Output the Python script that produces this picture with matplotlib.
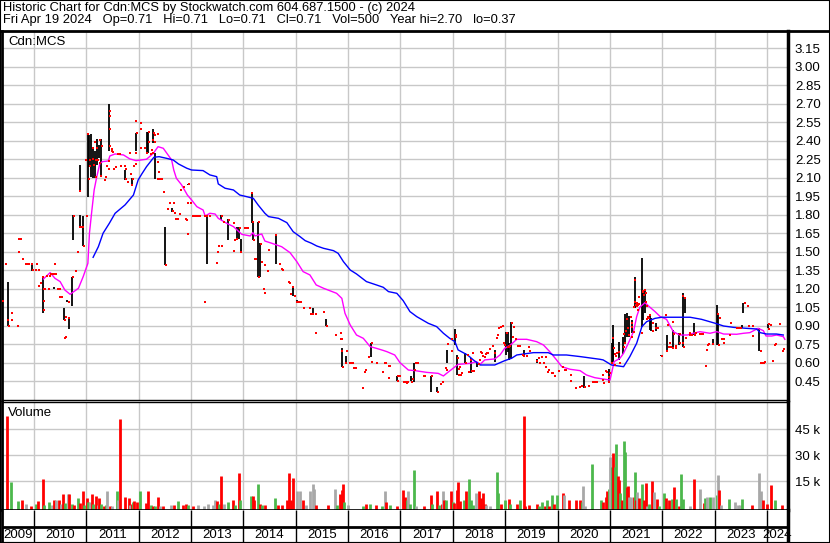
import matplotlib
matplotlib.use("Agg")
import matplotlib.pyplot as plt
from matplotlib.lines import Line2D
from matplotlib.patches import Rectangle

plt.rcParams['font.family'] = ['Liberation Sans', 'DejaVu Sans']

W, H = 830, 543

header1 = "Historic Chart for Cdn:MCS by Stockwatch.com 604.687.1500 - (c) 2024"
header2 = "Fri Apr 19 2024   Op=0.71   Hi=0.71   Lo=0.71   Cl=0.71   Vol=500   Year hi=2.70   lo=0.37"
symbol = "Cdn:MCS"

years = list(range(2009, 2025))
price_ticks = [0.45, 0.60, 0.75, 0.90, 1.05, 1.20, 1.35, 1.50, 1.65, 1.80,
               1.95, 2.10, 2.25, 2.40, 2.55, 2.70, 2.85, 3.00, 3.15]
vol_ticks = [15, 30, 45]   # thousands

# daily closes (decimal year, price)
closes = [
    (2009.40, 1.10), (2009.51, 0.95), (2009.52, 0.90), (2009.58, 0.95), (2009.59, 1.00),
    (2009.69, 0.90), (2009.46, 1.40), (2009.72, 1.60), (2009.75, 1.60), (2009.71, 1.50),
    (2009.80, 1.44), (2009.85, 1.40), (2009.88, 1.40), (2009.91, 1.40), (2009.96, 1.40),
    (2009.99, 1.35), (2010.03, 1.35), (2010.05, 1.40), (2010.09, 1.35), (2010.10, 1.225),
    (2010.13, 1.25), (2010.17, 1.295), (2010.19, 1.10), (2010.19, 1.03), (2010.20, 1.20),
    (2010.22, 1.20), (2010.24, 1.30), (2010.28, 1.20), (2010.31, 1.30), (2010.32, 1.32),
    (2010.36, 1.32), (2010.39, 1.32), (2010.40, 1.40), (2010.43, 1.32), (2010.46, 1.20),
    (2010.50, 1.20), (2010.50, 1.136), (2010.53, 1.136), (2010.59, 0.947), (2010.62, 0.968),
    (2010.67, 0.966), (2010.59, 0.798), (2010.61, 0.806), (2010.66, 1.096), (2010.74, 1.298),
    (2010.80, 1.347), (2010.85, 1.501), (2010.76, 1.793), (2010.88, 1.993), (2010.88, 1.698),
    (2010.91, 1.698), (2010.94, 1.698), (2010.95, 1.547), (2011.01, 1.793),
    (2010.99, 2.244), (2011.04, 2.452), (2011.07, 2.244), (2011.08, 2.196), (2011.06, 2.09),
    (2011.12, 2.344), (2011.13, 2.255), (2011.17, 2.393), (2011.18, 2.247), (2011.21, 2.339),
    (2011.23, 2.244), (2011.15, 2.201), (2011.18, 2.109), (2011.26, 2.217), (2011.27, 2.406),
    (2011.30, 2.361), (2011.29, 2.117), (2011.36, 2.085), (2011.37, 2.109),
    (2011.45, 2.644), (2011.45, 2.604), (2011.46, 2.493), (2011.45, 2.358), (2011.40, 2.196),
    (2011.43, 2.174), (2011.43, 2.239), (2011.50, 2.333), (2011.49, 2.317), (2011.51, 2.306),
    (2011.53, 2.174), (2011.56, 2.190), (2011.61, 2.293), (2011.64, 2.293), (2011.67, 2.198),
    (2011.74, 2.198), (2011.76, 2.090), (2011.80, 2.069), (2011.76, 2.171), (2011.83, 2.304),
    (2011.85, 2.131), (2011.88, 2.042), (2011.91, 2.198), (2011.94, 2.212), (2011.90, 2.088),
    (2011.95, 2.561), (2011.96, 2.461), (2011.94, 2.298), (2012.04, 2.542), (2012.04, 2.493),
    (2012.04, 2.339), (2012.19, 2.469), (2012.19, 2.390), (2012.13, 2.342), (2012.15, 2.304),
    (2012.29, 2.466), (2012.32, 2.447), (2012.32, 2.393), (2012.36, 2.452), (2012.27, 2.406),
    (2012.25, 2.325), (2012.23, 2.293), (2012.28, 2.304), (2012.37, 2.225), (2012.38, 2.150),
    (2012.37, 2.090), (2012.41, 2.090), (2012.45, 2.090), (2012.48, 1.988), (2012.52, 1.393),
    (2012.56, 1.850), (2012.60, 1.898), (2012.67, 1.898), (2012.65, 1.831), (2012.69, 1.817),
    (2012.71, 1.769), (2012.76, 1.769), (2012.79, 1.806), (2012.81, 2.004), (2012.86, 2.025),
    (2012.96, 2.047), (2012.90, 1.769), (2012.92, 1.758), (2012.94, 1.644), (2012.94, 1.898),
    (2013.00, 1.898), (2013.07, 1.793), (2013.11, 1.793), (2013.15, 1.793),
    (2013.04, 1.79), (2013.12, 1.79), (2013.17, 1.79), (2013.27, 1.79), (2013.31, 1.79),
    (2013.36, 1.79), (2013.26, 1.096), (2013.49, 1.41), (2013.59, 1.79), (2013.62, 1.744),
    (2013.72, 1.758), (2013.82, 1.736), (2013.84, 1.596), (2013.87, 1.601), (2013.93, 1.695),
    (2014.03, 1.695), (2014.06, 1.695), (2014.09, 1.695), (2013.53, 1.55), (2013.59, 1.55),
    (2013.51, 1.498), (2013.82, 1.509), (2013.95, 1.501), (2014.16, 1.979), (2014.18, 1.744),
    (2014.21, 1.596), (2014.30, 1.744), (2014.34, 1.563), (2014.29, 1.298), (2014.22, 1.444),
    (2014.25, 1.444), (2014.35, 1.420), (2014.41, 1.396), (2014.47, 1.347), (2014.49, 1.514),
    (2014.62, 1.636), (2014.39, 1.198), (2014.41, 1.169), (2014.69, 1.398), (2014.73, 1.363),
    (2014.75, 1.352), (2014.87, 1.255), (2014.89, 1.250), (2014.91, 1.160), (2014.94, 1.217),
    (2014.98, 1.141), (2015.03, 1.096), (2015.07, 1.096), (2015.10, 1.096), (2015.16, 1.047),
    (2015.28, 1.047), (2015.30, 0.995), (2015.33, 0.995), (2015.38, 0.995), (2015.54, 1.014),
    (2015.39, 0.844), (2015.59, 0.898), (2015.77, 0.828), (2015.86, 0.844), (2015.86, 0.795),
    (2015.88, 0.795), (2015.89, 0.695), (2015.97, 0.695), (2015.90, 0.568), (2015.95, 0.601),
    (2016.04, 0.601), (2016.06, 0.601), (2016.09, 0.601), (2016.11, 0.560), (2016.15, 0.560),
    (2016.29, 0.398), (2016.32, 0.528), (2016.34, 0.541), (2016.40, 0.649), (2016.46, 0.763),
    (2016.46, 0.606), (2016.56, 0.601), (2016.70, 0.601), (2016.72, 0.601), (2016.78, 0.574),
    (2016.66, 0.525), (2016.78, 0.479),
    (2016.71, 0.601), (2016.80, 0.577), (2016.96, 0.496), (2016.99, 0.496), (2016.95, 0.452),
    (2017.07, 0.447), (2017.10, 0.447), (2017.15, 0.447), (2017.12, 0.439), (2017.22, 0.447),
    (2017.24, 0.466), (2017.28, 0.541), (2017.30, 0.601), (2017.34, 0.601), (2017.44, 0.496),
    (2017.47, 0.496), (2017.61, 0.496), (2017.71, 0.366), (2017.77, 0.428), (2017.82, 0.441),
    (2017.86, 0.560), (2017.88, 0.541), (2017.91, 0.750), (2017.98, 0.698), (2017.98, 0.793),
    (2017.99, 0.793), (2018.06, 0.812), (2018.06, 0.825), (2018.10, 0.636), (2018.12, 0.501),
    (2018.14, 0.568), (2018.11, 0.547), (2018.16, 0.501), (2018.18, 0.520), (2018.25, 0.601),
    (2018.29, 0.663), (2018.34, 0.623), (2018.30, 0.528), (2018.38, 0.677), (2018.36, 0.536),
    (2018.41, 0.536), (2018.49, 0.587), (2018.52, 0.623), (2018.54, 0.690), (2018.56, 0.677),
    (2018.58, 0.655), (2018.61, 0.650), (2018.63, 0.669), (2018.66, 0.677), (2018.68, 0.677),
    (2018.71, 0.714), (2018.76, 0.739), (2018.80, 0.677), (2018.85, 0.798), (2018.87, 0.825),
    (2018.89, 0.879), (2018.92, 0.893), (2018.96, 0.898), (2018.98, 0.758), (2019.00, 0.744),
    (2019.03, 0.844), (2019.05, 0.731), (2019.08, 0.731), (2019.10, 0.736), (2019.12, 0.925),
    (2019.17, 0.887), (2019.14, 0.806), (2019.20, 0.796), (2019.25, 0.736), (2019.29, 0.739),
    (2019.33, 0.663), (2019.36, 0.655), (2019.41, 0.655), (2019.45, 0.731), (2019.47, 0.698),
    (2019.60, 0.614), (2019.64, 0.636), (2019.70, 0.650), (2019.74, 0.601), (2019.66, 0.595),
    (2019.78, 0.650), (2019.78, 0.568), (2019.82, 0.528), (2019.84, 0.541), (2019.89, 0.520),
    (2019.92, 0.514), (2019.96, 0.496), (2020.03, 0.536), (2020.11, 0.568), (2020.14, 0.541),
    (2020.17, 0.541), (2020.26, 0.501), (2020.26, 0.455), (2020.36, 0.393), (2020.43, 0.401),
    (2020.46, 0.412), (2020.52, 0.401), (2020.60, 0.412), (2020.67, 0.447), (2020.71, 0.447),
    (2020.76, 0.447),
    (2020.86, 0.460), (2020.89, 0.433), (2020.87, 0.501), (2020.92, 0.536), (2020.95, 0.522),
    (2020.98, 0.487), (2020.99, 0.447), (2021.00, 0.520), (2021.03, 0.601), (2021.06, 0.798),
    (2021.08, 0.717), (2021.09, 0.671), (2021.10, 0.582), (2021.12, 0.655), (2021.13, 0.677),
    (2021.17, 0.690), (2021.19, 0.601), (2021.26, 0.731), (2021.27, 0.833), (2021.28, 0.758),
    (2021.31, 0.860), (2021.32, 0.952), (2021.35, 0.879), (2021.37, 0.825), (2021.40, 0.969),
    (2021.42, 0.893), (2021.43, 0.920), (2021.45, 0.852), (2021.43, 0.812), (2021.48, 1.271),
    (2021.47, 1.096), (2021.45, 1.055), (2021.50, 1.069), (2021.52, 1.060), (2021.55, 1.131),
    (2021.54, 1.028), (2021.51, 1.082), (2021.54, 1.069), (2021.56, 1.077), (2021.61, 0.844),
    (2021.63, 1.185), (2021.64, 1.177), (2021.67, 1.190), (2021.65, 1.150), (2021.69, 1.169),
    (2021.69, 1.096), (2021.70, 1.060), (2021.71, 0.952), (2021.73, 0.974), (2021.77, 0.988),
    (2021.74, 0.960), (2021.82, 0.925), (2021.83, 0.860), (2021.88, 0.879), (2021.92, 0.879),
    (2021.99, 0.655), (2022.07, 0.988), (2022.10, 0.906), (2022.08, 0.698), (2022.15, 0.763),
    (2022.17, 0.731), (2022.13, 0.731), (2022.21, 0.933), (2022.22, 0.833), (2022.20, 0.717),
    (2022.26, 0.717), (2022.26, 0.736), (2022.33, 0.758), (2022.34, 0.833), (2022.40, 1.142),
    (2022.43, 1.123), (2022.45, 0.798), (2022.41, 0.731), (2022.40, 0.763), (2022.52, 0.825),
    (2022.57, 0.825), (2022.53, 0.844), (2022.62, 0.825), (2022.64, 0.839), (2022.72, 0.831),
    (2022.75, 0.831), (2022.77, 0.831), (2022.85, 0.704), (2022.83, 0.577), (2022.90, 0.750),
    (2022.88, 0.744), (2022.97, 0.750), (2023.07, 0.996), (2023.10, 0.960), (2023.09, 0.744),
    (2023.14, 0.796), (2023.18, 0.796), (2023.17, 0.758), (2023.29, 0.825), (2023.31, 0.925),
    (2023.58, 1.082), (2023.63, 1.060), (2023.42, 0.885), (2023.46, 0.885), (2023.50, 0.885),
    (2023.65, 0.898), (2023.73, 0.898), (2023.74, 0.820), (2023.88, 0.698), (2023.89, 0.601),
    (2023.92, 0.601), (2023.94, 0.601), (2023.97, 0.609), (2024.11, 0.614), (2024.04, 0.915),
    (2024.07, 0.906), (2024.04, 0.877), (2024.15, 0.744), (2024.17, 0.750), (2024.25, 0.915),
    (2024.30, 0.698), (2024.32, 0.709),
]

# high-low ranges (decimal year, low, high)
ranges = [
    (2009.51, 0.898, 1.258), (2009.97, 1.347, 1.401), (2010.18, 1.001, 1.298),
    (2010.39, 1.196, 1.217), (2010.58, 0.947, 1.042), (2010.67, 0.871, 0.966),
    (2010.64, 1.096, 1.109), (2010.73, 1.063, 1.298), (2010.75, 1.596, 1.798),
    (2010.87, 1.993, 2.204), (2010.88, 1.698, 1.798), (2010.94, 1.547, 1.793),
    (2011.04, 1.947, 2.455), (2011.06, 2.185, 2.447), (2011.09, 2.109, 2.455),
    (2011.12, 2.096, 2.352), (2011.16, 2.096, 2.320), (2011.20, 2.204, 2.412),
    (2011.25, 2.258, 2.366), (2011.29, 2.109, 2.412), (2011.44, 2.320, 2.698),
    (2011.74, 2.082, 2.163), (2011.88, 2.042, 2.096), (2011.95, 2.320, 2.461),
    (2012.15, 2.298, 2.469), (2012.18, 2.298, 2.474), (2012.28, 2.379, 2.493),
    (2012.32, 2.090, 2.298), (2012.51, 1.393, 1.704), (2012.63, 1.825, 1.852),
    (2012.95, 2.042, 2.047),
    (2013.31, 1.398, 1.790), (2013.49, 1.412, 1.420), (2013.58, 1.758, 1.798),
    (2013.71, 1.596, 1.763), (2013.87, 1.601, 1.704), (2013.92, 1.601, 1.704),
    (2013.95, 1.501, 1.601), (2014.16, 1.736, 1.979), (2014.19, 1.596, 1.736),
    (2014.28, 1.298, 1.744), (2014.32, 1.298, 1.569), (2014.62, 1.398, 1.636),
    (2014.95, 1.141, 1.217), (2015.03, 1.096, 1.109), (2015.33, 0.995, 1.047),
    (2015.58, 0.898, 0.952), (2015.88, 0.568, 0.717), (2015.95, 0.601, 0.655),
    (2016.44, 0.649, 0.763),
    (2016.94, 0.452, 0.493), (2017.21, 0.452, 0.493), (2017.26, 0.447, 0.596),
    (2017.59, 0.360, 0.496), (2017.70, 0.366, 0.401), (2017.89, 0.601, 0.704),
    (2018.05, 0.744, 0.874), (2018.08, 0.501, 0.663), (2018.24, 0.595, 0.677),
    (2018.34, 0.514, 0.636), (2018.47, 0.563, 0.595), (2018.80, 0.609, 0.704),
    (2019.01, 0.663, 0.852), (2019.05, 0.690, 0.852), (2019.08, 0.623, 0.758),
    (2019.11, 0.631, 0.933), (2019.35, 0.650, 0.704), (2019.60, 0.601, 0.628),
    (2020.50, 0.393, 0.493),
    (2020.99, 0.433, 0.547), (2021.03, 0.609, 0.758), (2021.05, 0.609, 0.906),
    (2021.06, 0.623, 0.812), (2021.17, 0.623, 0.771), (2021.24, 0.671, 0.812),
    (2021.29, 0.771, 0.996), (2021.32, 0.812, 1.001), (2021.37, 0.812, 0.979),
    (2021.43, 0.839, 0.947), (2021.47, 1.042, 1.293), (2021.61, 0.893, 1.447),
    (2021.63, 0.947, 1.177), (2021.66, 1.001, 1.190), (2021.77, 0.866, 0.988),
    (2021.78, 0.860, 0.960), (2021.87, 0.860, 0.920), (2021.98, 0.655, 0.663),
    (2022.08, 0.698, 0.825), (2022.20, 0.717, 0.866), (2022.31, 0.744, 0.839),
    (2022.39, 0.725, 1.163), (2022.44, 1.001, 1.123), (2022.61, 0.825, 0.920),
    (2022.96, 0.744, 0.790), (2023.05, 0.744, 1.069), (2023.07, 0.744, 1.001),
    (2023.53, 0.879, 0.906), (2023.55, 1.001, 1.088), (2023.85, 0.698, 0.879),
    (2024.02, 0.879, 0.915),
]

# short moving average (magenta)
ma_short = [
    (2010.18, 1.279), (2010.31, 1.331), (2010.40, 1.285), (2010.50, 1.258), (2010.59, 1.190),
    (2010.69, 1.155), (2010.85, 1.204), (2010.94, 1.298), (2011.03, 1.406), (2011.06, 1.650),
    (2011.10, 1.812), (2011.15, 2.001), (2011.20, 2.109), (2011.26, 2.217), (2011.31, 2.231),
    (2011.42, 2.236), (2011.45, 2.277), (2011.55, 2.293), (2011.71, 2.285), (2011.83, 2.253),
    (2011.95, 2.239), (2012.15, 2.250), (2012.28, 2.298), (2012.37, 2.352), (2012.47, 2.339),
    (2012.63, 2.244), (2012.67, 2.163), (2012.72, 2.096), (2012.82, 2.042), (2012.93, 1.960),
    (2013.01, 1.920), (2013.11, 1.866), (2013.17, 1.852), (2013.23, 1.839), (2013.27, 1.790),
    (2013.36, 1.812), (2013.46, 1.806), (2013.52, 1.771), (2013.68, 1.731), (2013.81, 1.704),
    (2013.97, 1.641), (2014.13, 1.628), (2014.18, 1.655), (2014.22, 1.628), (2014.35, 1.644),
    (2014.41, 1.587), (2014.54, 1.569), (2014.73, 1.541), (2014.89, 1.493), (2015.02, 1.420),
    (2015.14, 1.339), (2015.27, 1.312), (2015.39, 1.231), (2015.53, 1.204), (2015.78, 1.163),
    (2015.88, 1.122), (2015.94, 1.001), (2016.04, 0.906), (2016.16, 0.825), (2016.29, 0.798),
    (2016.42, 0.731), (2016.54, 0.717), (2016.67, 0.700), (2016.74, 0.690), (2016.89, 0.663),
    (2016.99, 0.601), (2017.15, 0.541), (2017.28, 0.536), (2017.50, 0.522), (2017.72, 0.514),
    (2017.82, 0.493), (2017.88, 0.514), (2017.98, 0.547), (2018.10, 0.587), (2018.33, 0.595),
    (2018.45, 0.609), (2018.52, 0.587), (2018.61, 0.623), (2018.80, 0.631), (2018.90, 0.663),
    (2018.99, 0.717), (2019.10, 0.744), (2019.22, 0.790), (2019.41, 0.790), (2019.60, 0.771),
    (2019.73, 0.744), (2019.85, 0.690), (2019.98, 0.623), (2020.08, 0.568), (2020.24, 0.547),
    (2020.43, 0.536), (2020.55, 0.501), (2020.71, 0.479), (2020.87, 0.468), (2021.00, 0.460),
    (2021.03, 0.514), (2021.08, 0.609), (2021.19, 0.636), (2021.26, 0.677), (2021.35, 0.758),
    (2021.45, 0.852), (2021.51, 0.974), (2021.57, 1.050), (2021.67, 1.088), (2021.75, 1.055),
    (2021.86, 1.015), (2021.96, 0.974), (2022.08, 0.952), (2022.21, 0.852), (2022.33, 0.825),
    (2022.48, 0.825), (2022.59, 0.839), (2022.72, 0.852), (2022.91, 0.839), (2023.04, 0.852),
    (2023.17, 0.833), (2023.42, 0.831), (2023.55, 0.839), (2023.67, 0.844), (2023.83, 0.879),
    (2023.93, 0.860), (2023.98, 0.817), (2024.09, 0.817), (2024.18, 0.825), (2024.31, 0.812),
    (2024.34, 0.790),
]

# long moving average (blue)
ma_long = [
    (2011.13, 1.455), (2011.23, 1.541), (2011.32, 1.650), (2011.44, 1.731), (2011.55, 1.812),
    (2011.74, 1.880), (2011.90, 1.960), (2011.99, 2.082), (2012.06, 2.131), (2012.15, 2.190),
    (2012.29, 2.266), (2012.39, 2.271), (2012.53, 2.258), (2012.66, 2.244), (2012.76, 2.212),
    (2012.92, 2.177), (2013.01, 2.163), (2013.23, 2.158), (2013.36, 2.123), (2013.49, 2.109),
    (2013.52, 2.050), (2013.65, 2.015), (2013.81, 2.001), (2013.93, 1.960), (2014.06, 1.947),
    (2014.19, 1.933), (2014.28, 1.880), (2014.41, 1.812), (2014.48, 1.785), (2014.67, 1.771),
    (2014.83, 1.736), (2014.95, 1.663), (2015.08, 1.623), (2015.18, 1.590), (2015.30, 1.569),
    (2015.40, 1.547), (2015.53, 1.528), (2015.72, 1.509), (2015.81, 1.487), (2015.91, 1.420),
    (2016.04, 1.352), (2016.16, 1.320), (2016.35, 1.258), (2016.54, 1.231), (2016.67, 1.212),
    (2016.77, 1.177), (2016.93, 1.163), (2017.05, 1.104), (2017.18, 1.015), (2017.31, 0.974),
    (2017.53, 0.920), (2017.69, 0.893), (2017.82, 0.839), (2017.94, 0.798), (2018.04, 0.771),
    (2018.10, 0.704), (2018.28, 0.663), (2018.39, 0.623), (2018.52, 0.582), (2018.80, 0.582),
    (2018.99, 0.617), (2019.12, 0.636), (2019.22, 0.663), (2019.35, 0.671), (2019.54, 0.682),
    (2019.82, 0.682), (2019.92, 0.663), (2020.17, 0.663), (2020.43, 0.650), (2020.81, 0.628),
    (2020.87, 0.623), (2021.03, 0.582), (2021.26, 0.568), (2021.38, 0.650), (2021.51, 0.758),
    (2021.61, 0.893), (2021.70, 0.933), (2021.86, 0.960), (2021.99, 0.969), (2022.53, 0.969),
    (2022.75, 0.952), (2023.01, 0.920), (2023.17, 0.898), (2023.36, 0.887), (2023.61, 0.879),
    (2023.80, 0.874), (2023.87, 0.844), (2023.99, 0.833), (2024.18, 0.833), (2024.31, 0.825),
]

# volume (decimal year, thousands of shares, r=down g=up x=unchanged)
volume = [
    (2009.49, 52.5, 'r'), (2009.57, 14.6, 'g'), (2009.69, 3.6, 'g'), (2009.78, 3.9, 'r'),
    (2009.84, 1.6, 'x'), (2009.95, 0.8, 'r'), (2010.04, 2.0, 'g'), (2010.08, 3.6, 'r'),
    (2010.17, 16.2, 'r'), (2010.19, 1.0, 'g'), (2010.29, 3.0, 'g'), (2010.34, 1.0, 'x'),
    (2010.39, 3.9, 'r'), (2010.42, 3.9, 'x'), (2010.47, 3.9, 'r'), (2010.51, 1.5, 'x'),
    (2010.56, 7.7, 'r'), (2010.60, 2.5, 'g'), (2010.65, 7.3, 'x'), (2010.67, 7.3, 'r'),
    (2010.73, 2.0, 'g'), (2010.76, 1.0, 'r'), (2010.85, 5.4, 'g'), (2010.88, 2.5, 'r'),
    (2010.93, 9.2, 'r'), (2010.95, 1.0, 'g'), (2011.02, 5.0, 'r'), (2011.04, 3.0, 'g'),
    (2011.07, 3.0, 'x'), (2011.11, 7.7, 'r'), (2011.13, 2.0, 'g'), (2011.18, 6.4, 'r'),
    (2011.22, 1.0, 'x'), (2011.25, 5.0, 'r'), (2011.29, 2.0, 'g'), (2011.34, 0.6, 'r'),
    (2011.37, 1.0, 'g'), (2011.40, 9.2, 'x'), (2011.45, 0.8, 'r'), (2011.50, 0.8, 'x'),
    (2011.58, 9.2, 'g'), (2011.61, 3.9, 'x'), (2011.65, 50.8, 'r'), (2011.73, 5.6, 'r'),
    (2011.81, 5.0, 'r'), (2011.83, 1.0, 'x'), (2011.87, 2.0, 'r'), (2011.90, 3.0, 'g'),
    (2011.92, 3.5, 'r'), (2011.96, 3.0, 'r'), (2012.02, 9.2, 'g'), (2012.14, 2.5, 'r'),
    (2012.18, 9.2, 'r'), (2012.23, 1.0, 'g'), (2012.27, 0.6, 'r'), (2012.32, 0.6, 'g'),
    (2012.37, 5.6, 'r'), (2012.41, 0.6, 'x'), (2012.47, 0.6, 'r'), (2012.62, 1.0, 'x'),
    (2012.67, 1.0, 'r'), (2012.76, 3.6, 'g'), (2012.84, 1.0, 'r'), (2012.90, 2.0, 'r'),
    (2012.95, 1.0, 'g'), (2013.04, 0.6, 'r'), (2013.14, 1.0, 'x'), (2013.25, 0.6, 'x'),
    (2013.33, 1.9, 'x'), (2013.42, 1.0, 'x'), (2013.46, 3.9, 'x'), (2013.49, 3.5, 'r'),
    (2013.53, 2.0, 'g'), (2013.58, 17.9, 'r'), (2013.62, 1.6, 'x'), (2013.71, 3.0, 'g'),
    (2013.81, 3.9, 'r'), (2013.84, 1.0, 'g'), (2013.91, 19.8, 'r'), (2013.93, 3.9, 'g'),
    (2014.14, 6.4, 'g'), (2014.18, 6.4, 'r'), (2014.21, 3.9, 'r'), (2014.28, 13.5, 'g'),
    (2014.32, 1.6, 'r'), (2014.36, 1.0, 'g'), (2014.41, 1.0, 'r'), (2014.60, 5.0, 'g'),
    (2014.67, 1.0, 'r'), (2014.74, 1.0, 'r'), (2014.84, 3.9, 'r'), (2014.88, 19.8, 'r'),
    (2014.91, 3.9, 'r'), (2014.95, 16.9, 'r'), (2015.02, 9.2, 'x'), (2015.08, 9.2, 'x'),
    (2015.14, 3.9, 'r'), (2015.19, 1.0, 'x'), (2015.27, 9.2, 'x'), (2015.32, 13.5, 'x'),
    (2015.35, 10.4, 'x'), (2015.39, 1.0, 'r'), (2015.62, 1.0, 'r'), (2015.75, 10.4, 'x'),
    (2015.78, 1.0, 'g'), (2015.84, 7.3, 'r'), (2015.88, 9.6, 'r'), (2015.91, 13.5, 'r'),
    (2015.93, 3.0, 'g'), (2016.00, 1.0, 'x'), (2016.29, 0.6, 'g'), (2016.35, 1.9, 'r'),
    (2016.42, 2.0, 'g'), (2016.54, 1.0, 'r'), (2016.64, 0.6, 'g'), (2016.70, 9.2, 'x'),
    (2016.73, 2.8, 'r'), (2016.79, 1.0, 'g'), (2016.93, 0.6, 'r'),
    (2017.04, 9.8, 'r'), (2017.09, 6.0, 'r'), (2017.12, 4.0, 'g'), (2017.14, 9.4, 'x'),
    (2017.19, 1.6, 'g'), (2017.26, 21.3, 'g'), (2017.30, 0.4, 'x'), (2017.44, 0.4, 'r'),
    (2017.58, 7.0, 'r'), (2017.60, 1.6, 'g'), (2017.69, 9.4, 'r'), (2017.74, 1.0, 'g'),
    (2017.79, 1.6, 'r'), (2017.81, 9.4, 'x'), (2017.84, 4.0, 'r'), (2017.87, 4.0, 'g'),
    (2017.96, 9.4, 'r'), (2018.01, 3.0, 'g'), (2018.03, 2.5, 'r'), (2018.07, 9.8, 'r'),
    (2018.10, 14.4, 'r'), (2018.14, 3.6, 'r'), (2018.21, 4.0, 'g'), (2018.26, 9.4, 'r'),
    (2018.31, 16.0, 'g'), (2018.35, 4.0, 'g'), (2018.39, 1.0, 'g'), (2018.44, 8.0, 'x'),
    (2018.50, 9.4, 'r'), (2018.53, 5.0, 'r'), (2018.57, 8.0, 'r'), (2018.61, 2.0, 'r'),
    (2018.64, 1.0, 'x'), (2018.71, 0.4, 'x'), (2018.84, 20.4, 'g'), (2018.87, 8.0, 'g'),
    (2018.91, 1.6, 'r'), (2019.00, 4.0, 'g'), (2019.07, 4.4, 'r'), (2019.09, 1.6, 'g'),
    (2019.22, 1.6, 'r'), (2019.29, 4.0, 'g'), (2019.35, 52.5, 'r'), (2019.38, 0.4, 'r'),
    (2019.45, 1.0, 'r'), (2019.60, 2.0, 'r'), (2019.64, 0.4, 'g'), (2019.71, 3.0, 'g'),
    (2019.75, 0.4, 'r'), (2019.79, 4.0, 'g'), (2019.84, 0.4, 'r'), (2019.89, 7.0, 'g'),
    (2019.94, 1.6, 'r'), (2019.98, 7.0, 'g'), (2020.10, 8.3, 'r'), (2020.12, 7.0, 'x'),
    (2020.22, 4.0, 'r'), (2020.35, 4.0, 'r'), (2020.43, 4.0, 'r'), (2020.46, 3.0, 'g'),
    (2020.49, 12.1, 'x'), (2020.53, 0.4, 'x'), (2020.66, 24.8, 'g'), (2020.82, 4.0, 'g'),
    (2020.87, 3.0, 'r'), (2020.92, 6.0, 'r'), (2020.95, 9.4, 'r'), (2020.98, 10.2, 'g'),
    (2021.01, 28.6, 'x'), (2021.04, 23.1, 'g'), (2021.06, 31.3, 'r'), (2021.09, 22.9, 'g'),
    (2021.11, 36.3, 'g'), (2021.15, 17.9, 'r'), (2021.18, 15.6, 'r'), (2021.20, 8.0, 'g'),
    (2021.23, 4.0, 'r'), (2021.27, 38.0, 'g'), (2021.29, 31.9, 'g'), (2021.32, 11.4, 'r'),
    (2021.35, 12.1, 'r'), (2021.37, 6.0, 'x'), (2021.40, 5.6, 'x'), (2021.45, 6.0, 'r'),
    (2021.47, 20.4, 'g'), (2021.50, 4.0, 'r'), (2021.52, 8.8, 'x'), (2021.56, 5.0, 'r'),
    (2021.61, 13.3, 'g'), (2021.65, 4.0, 'r'), (2021.68, 14.1, 'r'), (2021.71, 0.4, 'x'),
    (2021.75, 1.6, 'g'), (2021.80, 15.2, 'r'), (2021.84, 8.8, 'x'), (2021.89, 4.4, 'r'),
    (2021.94, 0.4, 'g'), (2022.03, 8.3, 'g'), (2022.07, 5.0, 'r'), (2022.13, 4.0, 'r'),
    (2022.18, 4.4, 'g'), (2022.22, 11.4, 'r'), (2022.26, 4.4, 'g'), (2022.31, 0.4, 'r'),
    (2022.36, 19.1, 'g'), (2022.40, 4.4, 'g'), (2022.53, 0.4, 'x'), (2022.60, 16.0, 'r'),
    (2022.71, 10.2, 'x'), (2022.80, 2.5, 'r'), (2022.82, 5.0, 'g'), (2022.86, 6.0, 'x'),
    (2022.91, 6.0, 'g'), (2022.96, 5.6, 'x'), (2023.04, 7.0, 'g'), (2023.06, 18.5, 'x'),
    (2023.08, 9.8, 'r'), (2023.13, 1.0, 'x'), (2023.28, 4.4, 'g'), (2023.39, 3.0, 'x'),
    (2023.45, 1.0, 'x'), (2023.48, 1.0, 'x'), (2023.52, 4.4, 'g'), (2023.71, 1.0, 'r'),
    (2023.85, 19.5, 'x'), (2023.88, 9.4, 'x'), (2023.93, 4.0, 'r'), (2023.99, 2.0, 'r'),
    (2024.07, 12.7, 'r'), (2024.15, 4.0, 'g'), (2024.28, 1.0, 'r'),
]
vol_colors = {'r': '#FF0000', 'g': '#4CB84C', 'x': '#A8A8A8'}

x_start, x_end = 2009.39, 2024.40
grid_color = '#C8C8C8'


def px_box(x0, y0, x1, y1):
    return [x0 / W, 1 - y1 / H, (x1 - x0) / W, (y1 - y0) / H]


fig = plt.figure(figsize=(W / 100, H / 100), dpi=100)
fig.patch.set_facecolor('white')

# ---- price panel
ax = fig.add_axes(px_box(2, 31, 788, 400))
ax.set_xlim(x_start, x_end)
ax.set_ylim(0.298, 3.29)
ax.set_xticks(years[1:])
ax.set_xticklabels([])
ax.yaxis.tick_right()
ax.set_yticks(price_ticks)
ax.set_yticklabels(['%.2f' % p for p in price_ticks])
ax.tick_params(axis='both', length=0, labelsize=9.5, pad=5)
ax.grid(True, color=grid_color, lw=1)
ax.set_axisbelow(True)

rt, rlo, rhi = zip(*ranges)
ax.vlines(rt, rlo, rhi, color='black', lw=1.3, zorder=2)
mt, mv = zip(*ma_short)
ax.plot(mt, mv, color='#FF00FF', lw=1, zorder=3)
lt, lv = zip(*ma_long)
ax.plot(lt, lv, color='#0000FF', lw=1, zorder=3)
ct, cp = zip(*closes)
ax.plot(ct, cp, 's', color='#FF0000', ms=2.0, mew=0, zorder=4)

for side, w in [('left', 2), ('right', 2.5), ('top', 0), ('bottom', 1)]:
    ax.spines[side].set_linewidth(w)
    ax.spines[side].set_color('black')

fig.text(8 / W, 1 - 42 / H, symbol, fontsize=9.5, va='center', ha='left')

# ---- volume panel
axv = fig.add_axes(px_box(2, 402, 788, 510))
axv.set_xlim(x_start, x_end)
axv.set_ylim(-1.7, 60.6)
axv.set_xticks(years[1:])
axv.set_xticklabels([])
axv.yaxis.tick_right()
axv.set_yticks(vol_ticks)
axv.set_yticklabels(['%d k' % v for v in vol_ticks])
axv.tick_params(axis='both', length=0, labelsize=9.5, pad=5)
axv.grid(True, color=grid_color, lw=1)
axv.set_axisbelow(True)

vt, vk, vd = zip(*volume)
axv.vlines(vt, -1.7, vk, colors=[vol_colors[d] for d in vd], lw=2)
for side, w in [('left', 2), ('right', 2.5), ('top', 1), ('bottom', 1.2)]:
    axv.spines[side].set_linewidth(w)
    axv.spines[side].set_color('black')
fig.text(8 / W, 1 - 413 / H, "Volume", fontsize=9.5, va='center', ha='left')

# ---- year strip
axd = fig.add_axes(px_box(2, 510, 788, 543))
axd.set_xlim(x_start, x_end)
axd.set_ylim(0, 1)
axd.set_xticks([])
axd.set_yticks([])
axd.vlines(years[1:], 0, 1, color='black', lw=1)
axd.axhline(0.5, color='black', lw=2)
for y in years:
    lo = max(y, x_start)
    hi = min(y + 1, x_end)
    axd.text((lo + hi) / 2, 0.24, str(y), ha='center', va='center', fontsize=9.5)
for side, w in [('left', 2), ('right', 2.5), ('top', 0), ('bottom', 1.5)]:
    axd.spines[side].set_linewidth(w)
    axd.spines[side].set_color('black')

# ---- header
fig.text(3 / W, 1 - 8 / H, header1, fontsize=9.3, va='center', ha='left')
fig.text(3 / W, 1 - 20 / H, header2, fontsize=9.3, va='center', ha='left')
fig.add_artist(Line2D([0, 1], [1 - 30.5 / H, 1 - 30.5 / H], color='black', lw=2))
fig.add_artist(Rectangle((0, 0), 1, 1, fill=False, edgecolor='black', lw=1.5,
                         transform=fig.transFigure))

fig.savefig('out.png', dpi=100)
